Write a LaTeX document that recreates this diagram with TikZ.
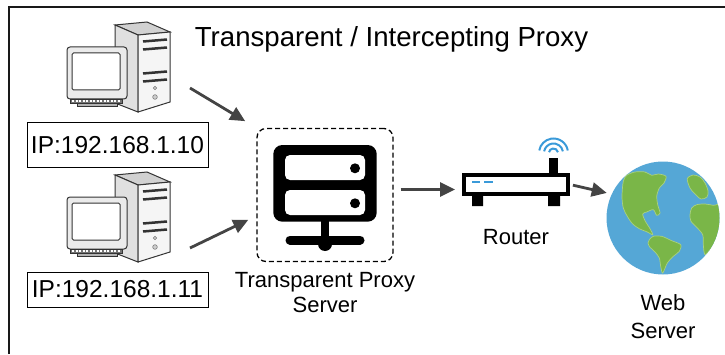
\documentclass[tikz,border=0pt]{standalone}
\usepackage{fontspec}
\setmainfont{Liberation Sans}
\usetikzlibrary{positioning,arrows.meta}

\definecolor{arrowgrey}{HTML}{444444}
\definecolor{ocean}{HTML}{55A7D6}
\definecolor{land}{HTML}{7AB648}
\definecolor{landedge}{HTML}{A9D27F}
\definecolor{wifiblue}{HTML}{3A9AD9}
\definecolor{caseline}{HTML}{333333}

\begin{document}
\begin{tikzpicture}[
        x=1pt, y=1pt,
        >={Triangle[length=15pt,width=14pt]},
        flow/.style={->, line width=2.8pt, draw=arrowgrey},
        ipbox/.style={rectangle, draw, line width=1pt, minimum width=181pt, inner sep=0, font=\fontsize{24.5}{28}\selectfont},
        lbl/.style={inner sep=0, align=center, font=\fontsize{22}{25}\selectfont},
        pc/.pic={
          % tower
          \filldraw[fill=black!18, draw=caseline, line width=1pt] (0,0) -- (32,3) -- (55,-7) -- (23,-10) -- cycle;
          \filldraw[fill=black!12, draw=caseline, line width=1pt] (0,0) -- (23,-10) -- (23,-87) -- (0,-78) -- cycle;
          \filldraw[fill=black!4, draw=caseline, line width=1pt] (23,-10) -- (55,-7) -- (55,-77) -- (23,-87) -- cycle;
          \draw[caseline, line width=2.5pt] (28,-16.5) -- (52,-14.5) (28,-24.5) -- (52,-22.5)
                                            (28,-48.5) -- (52,-46.5) (28,-56.5) -- (52,-54.5);
          \filldraw[fill=black!20, draw=black!50, line width=0.6pt] (40,-63) circle (1.8) (40,-72) circle (2.3);
          % monitor
          \filldraw[fill=black!8, draw=caseline, line width=1pt, rounded corners=3pt] (-48,-22) rectangle (12,-74);
          \filldraw[fill=white, draw=caseline, line width=1pt, rounded corners=1.5pt] (-43,-28) rectangle (5,-65);
          \filldraw[fill=black!55, draw=caseline, line width=0.8pt] (-45,-74) rectangle (7,-78);
          \draw[white, line width=1.2pt, dash pattern=on 2pt off 1.5pt] (-43,-76) -- (5,-76);
          \filldraw[fill=black!30, draw=caseline, line width=0.8pt] (-38,-78) rectangle (2,-81);
        }
      ]

      \useasboundingbox (0,0) rectangle (725,354);
      \draw[line width=2pt, draw=black!90] (9,0) -- (9,347) -- (725,347);

      \node[inner sep=0, anchor=base, font=\fontsize{27.6}{32}\selectfont] (title) at (391.5,307) {Transparent / Intercepting Proxy};

      \pic at (115,329) {pc};
      \pic at (115,179) {pc};
      \coordinate (pc1out) at (190,266);
      \coordinate (pc2out) at (190,106);

      \node[ipbox, minimum height=44pt] (ip1) at (117.5,209) {IP:192.168.1.10};
      \node[ipbox, minimum height=35pt] (ip2) at (117.5,64.5) {IP:192.168.1.11};

      \node[rectangle, draw, line width=1.3pt, dash pattern=on 5pt off 3pt, rounded corners=9pt,
            minimum width=136pt, minimum height=133pt] (proxy) at (325,159) {};
      \fill[rounded corners=9pt] (273.3,132.3) rectangle (376.7,209);
      \fill[white, rounded corners=5pt] (285,174) rectangle (365,199);
      \fill[white, rounded corners=5pt] (285,139) rectangle (365,164);
      \fill (355,185.7) circle (5) (355,150.7) circle (5);
      \fill (321,133) rectangle (329,114);
      \draw[line width=9pt, line cap=round] (290,114) -- (360,114);
      \fill (325,110) circle (7);
      \node[lbl, below=10pt of proxy] (proxylbl) {Transparent Proxy\\Server};

      \node[rectangle, draw, line width=4pt, fill=white, minimum width=104pt, minimum height=18.5pt, inner sep=0] (router) at (516,169.5) {};
      \fill (472,148) rectangle (483,158.5) (548,148) rectangle (560,158.5);
      \fill (549,180) rectangle (558,196);
      \draw[wifiblue, line width=2.5pt] (472,172) -- (480,172) (484,172) -- (493,172);
      \foreach \r in {4.5,9.5,14.5}
        \draw[wifiblue, line width=2pt] (553.5,201) ++(10:\r) arc[start angle=10, end angle=170, radius=\r];
      \node[lbl, below=33pt of router] (routerlbl) {Router};

      \node[circle, fill=ocean, minimum size=113pt, inner sep=0] (globe) at (663,136) {};
      \begin{scope}[shift={(globe.center)}]
        \clip (0,0) circle (56.5);
        \filldraw[fill=land, draw=landedge, line width=0.7pt] plot[smooth cycle, tension=0.5] coordinates {
          (-39.7,36.7) (-36.3,42.7) (-28,46) (-18,46) (-11.3,42.7) (-4.7,44) (3,41.7) (1,35)
          (-3.7,30) (-6.3,21.7) (-5.3,13.3) (-3,5) (-6.3,2.7) (-9.7,8.3) (-16.3,6) (-20.3,4)
          (-18,-2.7) (-13,-10.7) (-10.3,-16.7) (-15.7,-14) (-23.7,-10.7) (-30.3,-6) (-35.7,1.7)
          (-39.7,10) (-41,21.7)};
        \filldraw[fill=land, draw=landedge, line width=0.7pt] plot[smooth cycle, tension=0.5] coordinates {
          (-13.7,-21.7) (-9.7,-18.3) (-1.3,-18.3) (8.7,-22.7) (17.7,-26.7) (16.3,-33.3) (10.3,-38.3)
          (4.3,-45) (-0.3,-55) (-2.3,-48.3) (-3.7,-40) (-8,-34) (-13,-29.3) (-15,-25)};
        \filldraw[fill=land, draw=landedge, line width=0.7pt] plot[smooth cycle, tension=0.5] coordinates {
          (24.3,39.3) (30,43) (37,41) (42,35) (45,27) (44,21) (38,19) (32,24) (27,30)};
        \filldraw[fill=land, draw=landedge, line width=0.7pt] plot[smooth cycle, tension=0.5] coordinates {
          (28.7,10) (33.7,13.3) (42,14) (50.3,12.7) (60,11.7) (62,-20) (48.7,-30) (42,-36.7)
          (40.3,-26.7) (39.7,-16.7) (33.7,-9.3) (28,-3.3) (27,3.3)};
      \end{scope}
      \node[lbl, font=\fontsize{22}{28}\selectfont, below=20pt of globe] (weblbl) {Web\\Server};

      \draw[flow, shorten >=13pt] (pc1out) -- (proxy.north west);
      \draw[flow, shorten >=9pt] (pc2out) -- (proxy.197);
      \coordinate (rin) at ([yshift=-5pt]router.west);
      \draw[flow, shorten <=7pt, shorten >=7pt] (proxy.east |- rin) -- (rin);
      \draw[flow, shorten <=3pt, shorten >=5pt] (router.east) -- (globe.155);

    \end{tikzpicture}
\end{document}
